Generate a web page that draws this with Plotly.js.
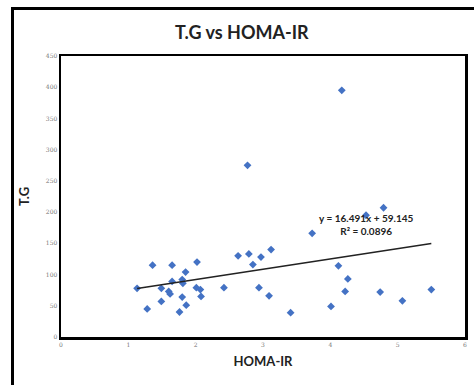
<!DOCTYPE html>
<html>
<head>
<meta charset="utf-8">
<script src="https://cdn.plot.ly/plotly-3.0.1.min.js"></script>
<style>
html,body{margin:0;padding:0;background:#fff;overflow:hidden;}
#frame{position:absolute;left:11px;top:7px;width:470px;height:400px;border:3px solid #000;box-sizing:border-box;pointer-events:none;z-index:5;}
#chart{position:absolute;left:0;top:0;width:474px;height:385px;}
</style>
</head>
<body>
<div id="chart"></div>
<div id="frame"></div>
<script>
// HOMA-IR values (x)
const homaIR = [1.13, 1.36, 1.65, 2.02, 1.85, 1.65, 1.80, 1.81, 1.49, 1.60,
                1.62, 2.01, 2.07, 2.08, 1.80, 1.49, 1.28, 1.86, 1.76,
                2.63, 2.79, 2.97, 3.12, 2.85, 2.42, 2.94, 3.09, 3.41,
                4.12, 4.26, 4.22, 4.74, 5.07, 5.50, 4.01,
                4.17, 4.79, 4.53, 3.73, 2.77];
// T.G values (y)
const tg = [78, 115, 115, 120, 104, 89, 92, 86, 78, 73,
            69, 79, 76, 65, 64, 57, 45, 51, 40,
            130, 133, 128, 140, 116, 79, 79, 66, 39,
            114, 93, 73, 72, 58, 76, 49,
            395, 207, 195, 166, 275];
// Linear trendline (from the chart's equation)
const slope = 16.491;
const intercept = 59.145;
const r2 = 0.0896;
const xTicks = [0, 1, 2, 3, 4, 5, 6];
const yTicks = [0, 50, 100, 150, 200, 250, 300, 350, 400, 450];

const xMin = Math.min(...homaIR), xMax = Math.max(...homaIR);
const trendX = [xMin, xMax];
const trendY = trendX.map(x => slope * x + intercept);

const data = [
  {x: homaIR, y: tg, type: 'scatter', mode: 'markers',
   marker: {symbol: 'diamond', size: 6, color: '#4472C4'}, showlegend: false, hoverinfo: 'x+y'},
  {x: trendX, y: trendY, type: 'scatter', mode: 'lines',
   line: {color: '#222', width: 1.6}, showlegend: false, hoverinfo: 'skip'}
];

const tickFont = {family: 'DejaVu Serif, serif', size: 6, color: '#777'};
const layout = {
  width: 474, height: 385,
  margin: {l: 61, r: 9, t: 56, b: 48},
  paper_bgcolor: '#fff', plot_bgcolor: '#fff',
  title: {text: '<b>T.G vs HOMA-IR</b>', x: 0.51, xanchor: 'center', y: 0.915, yanchor: 'middle',
          font: {family: 'Lato, Open Sans, sans-serif', size: 18, color: '#222'}},
  xaxis: {range: [0, 6], tickvals: xTicks, ticktext: xTicks.map(String),
          showgrid: false, zeroline: false, showline: true, mirror: true,
          linecolor: '#000', linewidth: 2.5, ticks: '', ticklen: 0,
          tickfont: tickFont,
          title: {text: '<b>HOMA-IR</b>', standoff: 10,
                  font: {family: 'Lato, Open Sans, sans-serif', size: 13, color: '#222'}}},
  yaxis: {range: [0, 450], tickvals: yTicks, ticktext: yTicks.map(String),
          showgrid: false, zeroline: false, showline: true, mirror: true,
          linecolor: '#000', linewidth: 2.5, ticks: '', ticklen: 0,
          tickfont: tickFont,
          title: {text: '<b>T.G</b>', standoff: 14,
                  font: {family: 'Lato, Open Sans, sans-serif', size: 13, color: '#222'}}},
  annotations: [
    {x: 4.54, y: 180, xref: 'x', yref: 'y', showarrow: false,
     text: '<b>y = ' + slope + 'x + ' + intercept + '</b><br><b>R² = ' + r2 + '</b>',
     align: 'center', font: {family: 'Lato, Open Sans, sans-serif', size: 10, color: '#222'}}
  ]
};

Plotly.newPlot('chart', data, layout, {displayModeBar: false, staticPlot: true});
</script>
</body>
</html>
